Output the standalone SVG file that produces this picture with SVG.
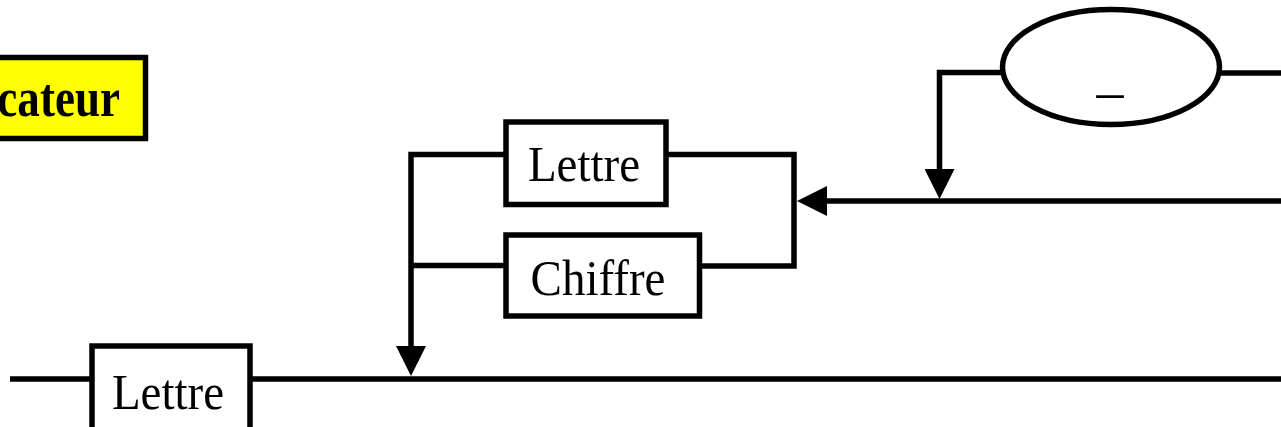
<svg xmlns="http://www.w3.org/2000/svg" width="1281" height="427" viewBox="0 0 1281 427">
  <style>
    .wire { fill: none; stroke: #000; stroke-width: 5.5; stroke-linejoin: miter; stroke-linecap: butt; }
    .box { fill: #fff; stroke: #000; stroke-width: 5.5; }
    .label { font-family: "Liberation Serif", "Times New Roman", serif; font-size: 47px; fill: #000; text-anchor: middle; }
    .title { font-family: "Liberation Serif", "Times New Roman", serif; font-size: 55px; font-weight: bold; fill: #000; text-anchor: end; }
  </style>
  <defs>
    <marker id="arrow" markerUnits="userSpaceOnUse" markerWidth="30" markerHeight="30" refX="10" refY="15" orient="auto">
      <path d="M0,0 L30,15 L0,30 Z" fill="#000"/>
    </marker>
  </defs>

  <rect width="1281" height="427" fill="#fff"/>

  <!-- title tag, running off the left edge -->
  <g id="title">
    <rect x="-10" y="57.5" width="155.5" height="81" fill="#ffff00" stroke="#000" stroke-width="5.5"/>
    <text class="title" transform="translate(120,116) scale(0.82,1)">Identificateur</text>
  </g>

  <!-- connectors -->
  <g id="connectors">
    <path class="wire" d="M10,379 H1281"/>
    <path class="wire" d="M504,154.5 H411 V356" marker-end="url(#arrow)"/>
    <path class="wire" d="M411,265.5 H504"/>
    <path class="wire" d="M668,154.5 H794 V266 H701"/>
    <path class="wire" d="M1281,201 H817" marker-end="url(#arrow)"/>
    <path class="wire" d="M1002,72.5 H939.5 V179" marker-end="url(#arrow)"/>
    <path class="wire" d="M1211,73 H1281"/>
  </g>

  <g id="lettre-start">
    <rect class="box" x="92" y="346" width="158" height="90"/>
    <text class="label" transform="translate(168,409) scale(1,1.08)">Lettre</text>
  </g>

  <g id="lettre-loop">
    <rect class="box" x="506" y="122" width="160" height="82.5"/>
    <text class="label" transform="translate(584,181) scale(1,1.08)">Lettre</text>
  </g>

  <g id="chiffre-loop">
    <rect class="box" x="506" y="235" width="193.5" height="81"/>
    <text class="label" transform="translate(598,295) scale(1,1.08)">Chiffre</text>
  </g>

  <g id="underscore">
    <ellipse class="box" cx="1111" cy="67" rx="108.5" ry="57.5"/>
    <text class="label" style="font-size:54px" transform="translate(1110,91)">_</text>
  </g>
</svg>
